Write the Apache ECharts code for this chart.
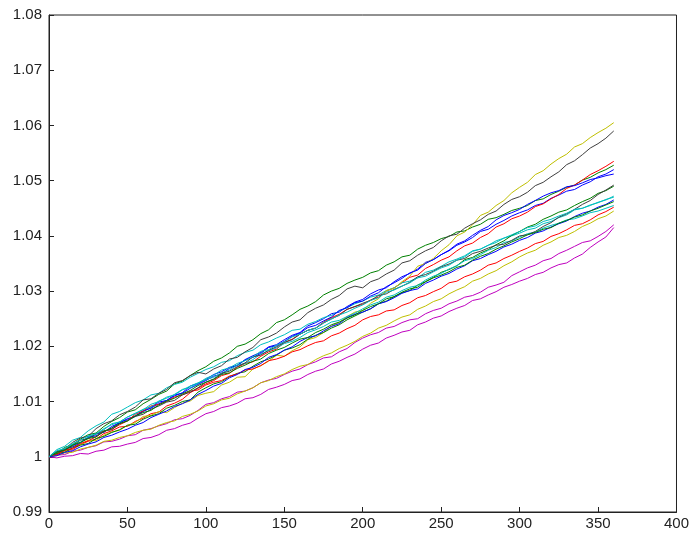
<!DOCTYPE html>
<html>
<head>
<meta charset="utf-8">
<script src="https://cdn.jsdelivr.net/npm/echarts@6/dist/echarts.min.js"></script>
<style>
  html, body { margin: 0; padding: 0; background: #fff; }
  #main { width: 692px; height: 536px; }
</style>
</head>
<body>
<div id="main"></div>
<script>
// step index (x), one value every 5 steps
var xs = [0, 5, 10, 15, 20, 25, 30, 35, 40, 45, 50, 55, 60, 65, 70, 75, 80, 85, 90, 95,
    100, 105, 110, 115, 120, 125, 130, 135, 140, 145, 150, 155, 160, 165, 170, 175, 180, 185, 190, 195,
    200, 205, 210, 215, 220, 225, 230, 235, 240, 245, 250, 255, 260, 265, 270, 275, 280, 285, 290, 295,
    300, 305, 310, 315, 320, 325, 330, 335, 340, 345, 350, 355, 360];

var yellowTop = [1, 1.0007, 1.0009, 1.0018, 1.0022, 1.0030, 1.0029, 1.0039, 1.0045, 1.0048,
    1.0057, 1.0062, 1.0073, 1.0075, 1.0082, 1.0080, 1.0089, 1.0097, 1.0101, 1.0111,
    1.0115, 1.0118, 1.0130, 1.0135, 1.0144, 1.0145, 1.0159, 1.0165, 1.0173, 1.0184,
    1.0182, 1.0192, 1.0199, 1.0212, 1.0216, 1.0225, 1.0237, 1.0243, 1.0254, 1.0262,
    1.0265, 1.0278, 1.0286, 1.0301, 1.0305, 1.0317, 1.0327, 1.0345, 1.0350, 1.0359,
    1.0373, 1.0384, 1.0400, 1.0407, 1.0420, 1.0437, 1.0443, 1.0455, 1.0464, 1.0478,
    1.0488, 1.0497, 1.0511, 1.0518, 1.0530, 1.0540, 1.0548, 1.0561, 1.0567, 1.0578,
    1.0587, 1.0595, 1.0605];
var blackTop = [1, 1.0010, 1.0014, 1.0026, 1.0034, 1.0037, 1.0051, 1.0060, 1.0065, 1.0076,
    1.0082, 1.0090, 1.0103, 1.0105, 1.0115, 1.0122, 1.0134, 1.0138, 1.0147, 1.0153,
    1.0150, 1.0159, 1.0165, 1.0177, 1.0180, 1.0190, 1.0198, 1.0212, 1.0217, 1.0224,
    1.0235, 1.0244, 1.0248, 1.0261, 1.0269, 1.0275, 1.0285, 1.0292, 1.0304, 1.0309,
    1.0306, 1.0317, 1.0322, 1.0331, 1.0338, 1.0351, 1.0355, 1.0365, 1.0373, 1.0379,
    1.0391, 1.0400, 1.0403, 1.0414, 1.0422, 1.0429, 1.0439, 1.0445, 1.0457, 1.0466,
    1.0471, 1.0479, 1.0491, 1.0497, 1.0507, 1.0516, 1.0529, 1.0536, 1.0547, 1.0559,
    1.0567, 1.0577, 1.0590];
var greenTop = [1, 1.0006, 1.0017, 1.0022, 1.0032, 1.0040, 1.0043, 1.0055, 1.0064, 1.0071,
    1.0081, 1.0085, 1.0096, 1.0104, 1.0113, 1.0119, 1.0132, 1.0137, 1.0147, 1.0156,
    1.0163, 1.0173, 1.0179, 1.0188, 1.0200, 1.0204, 1.0212, 1.0223, 1.0230, 1.0243,
    1.0248, 1.0257, 1.0267, 1.0273, 1.0281, 1.0293, 1.0300, 1.0305, 1.0314, 1.0320,
    1.0325, 1.0333, 1.0337, 1.0347, 1.0353, 1.0362, 1.0365, 1.0376, 1.0383, 1.0388,
    1.0395, 1.0399, 1.0407, 1.0409, 1.0416, 1.0421, 1.0430, 1.0433, 1.0439, 1.0446,
    1.0450, 1.0455, 1.0464, 1.0467, 1.0475, 1.0481, 1.0488, 1.0492, 1.0501, 1.0506,
    1.0514, 1.0520, 1.0528];
var redTop = [1, 1.0003, 1.0011, 1.0013, 1.0022, 1.0028, 1.0032, 1.0042, 1.0047, 1.0054,
    1.0055, 1.0064, 1.0070, 1.0078, 1.0081, 1.0092, 1.0097, 1.0104, 1.0116, 1.0124,
    1.0132, 1.0138, 1.0147, 1.0151, 1.0162, 1.0169, 1.0172, 1.0182, 1.0190, 1.0195,
    1.0207, 1.0213, 1.0222, 1.0229, 1.0233, 1.0244, 1.0252, 1.0258, 1.0267, 1.0272,
    1.0276, 1.0284, 1.0289, 1.0300, 1.0306, 1.0315, 1.0325, 1.0329, 1.0341, 1.0348,
    1.0356, 1.0362, 1.0373, 1.0382, 1.0387, 1.0397, 1.0404, 1.0416, 1.0422, 1.0431,
    1.0436, 1.0443, 1.0453, 1.0458, 1.0467, 1.0475, 1.0486, 1.0492, 1.0501, 1.0511,
    1.0518, 1.0526, 1.0535];
var blueA = [1, 1.0008, 1.0011, 1.0021, 1.0026, 1.0035, 1.0042, 1.0044, 1.0055, 1.0061,
    1.0069, 1.0073, 1.0082, 1.0089, 1.0099, 1.0102, 1.0110, 1.0116, 1.0128, 1.0133,
    1.0140, 1.0149, 1.0154, 1.0162, 1.0165, 1.0176, 1.0183, 1.0189, 1.0199, 1.0203,
    1.0212, 1.0220, 1.0225, 1.0237, 1.0243, 1.0250, 1.0259, 1.0262, 1.0272, 1.0280,
    1.0285, 1.0295, 1.0302, 1.0306, 1.0317, 1.0326, 1.0332, 1.0340, 1.0352, 1.0357,
    1.0366, 1.0373, 1.0383, 1.0389, 1.0397, 1.0408, 1.0412, 1.0421, 1.0428, 1.0436,
    1.0442, 1.0447, 1.0455, 1.0459, 1.0468, 1.0474, 1.0481, 1.0484, 1.0492, 1.0498,
    1.0507, 1.0512, 1.0520];
var blueB = [1, 1.0005, 1.0014, 1.0018, 1.0025, 1.0035, 1.0038, 1.0046, 1.0052, 1.0063,
    1.0067, 1.0074, 1.0083, 1.0088, 1.0096, 1.0102, 1.0112, 1.0115, 1.0124, 1.0131,
    1.0138, 1.0146, 1.0150, 1.0160, 1.0166, 1.0175, 1.0180, 1.0187, 1.0198, 1.0201,
    1.0209, 1.0218, 1.0224, 1.0234, 1.0238, 1.0246, 1.0253, 1.0265, 1.0270, 1.0279,
    1.0282, 1.0291, 1.0297, 1.0308, 1.0315, 1.0323, 1.0333, 1.0338, 1.0350, 1.0357,
    1.0366, 1.0374, 1.0385, 1.0391, 1.0401, 1.0410, 1.0417, 1.0429, 1.0437, 1.0442,
    1.0448, 1.0457, 1.0464, 1.0472, 1.0478, 1.0482, 1.0489, 1.0491, 1.0496, 1.0502,
    1.0505, 1.0509, 1.0512];
var greenB = [1, 1.0006, 1.0008, 1.0016, 1.0021, 1.0024, 1.0033, 1.0037, 1.0044, 1.0049,
    1.0057, 1.0059, 1.0068, 1.0074, 1.0078, 1.0088, 1.0093, 1.0100, 1.0103, 1.0117,
    1.0125, 1.0132, 1.0136, 1.0145, 1.0151, 1.0154, 1.0164, 1.0172, 1.0177, 1.0184,
    1.0193, 1.0197, 1.0203, 1.0213, 1.0220, 1.0225, 1.0233, 1.0239, 1.0248, 1.0255,
    1.0262, 1.0268, 1.0277, 1.0282, 1.0290, 1.0297, 1.0301, 1.0311, 1.0317, 1.0325,
    1.0334, 1.0339, 1.0346, 1.0357, 1.0361, 1.0369, 1.0375, 1.0384, 1.0391, 1.0401,
    1.0408, 1.0416, 1.0421, 1.0430, 1.0436, 1.0443, 1.0447, 1.0455, 1.0462, 1.0468,
    1.0477, 1.0482, 1.0490];
var blackB = [1, 1.0009, 1.0013, 1.0020, 1.0030, 1.0033, 1.0041, 1.0047, 1.0049, 1.0060,
    1.0065, 1.0073, 1.0077, 1.0086, 1.0092, 1.0099, 1.0102, 1.0112, 1.0117, 1.0125,
    1.0135, 1.0141, 1.0151, 1.0155, 1.0163, 1.0170, 1.0181, 1.0184, 1.0193, 1.0199,
    1.0207, 1.0212, 1.0222, 1.0229, 1.0233, 1.0242, 1.0250, 1.0256, 1.0267, 1.0272,
    1.0278, 1.0283, 1.0292, 1.0295, 1.0303, 1.0309, 1.0316, 1.0326, 1.0330, 1.0336,
    1.0344, 1.0349, 1.0356, 1.0359, 1.0368, 1.0372, 1.0378, 1.0383, 1.0385, 1.0392,
    1.0400, 1.0402, 1.0408, 1.0417, 1.0424, 1.0434, 1.0440, 1.0448, 1.0457, 1.0464,
    1.0475, 1.0483, 1.0492];
var cyanA = [1, 1.0013, 1.0019, 1.0030, 1.0035, 1.0047, 1.0056, 1.0063, 1.0077, 1.0082,
    1.0090, 1.0098, 1.0103, 1.0112, 1.0115, 1.0125, 1.0131, 1.0135, 1.0144, 1.0151,
    1.0158, 1.0163, 1.0171, 1.0174, 1.0183, 1.0189, 1.0193, 1.0203, 1.0208, 1.0215,
    1.0221, 1.0229, 1.0231, 1.0240, 1.0245, 1.0252, 1.0256, 1.0264, 1.0270, 1.0277,
    1.0282, 1.0289, 1.0293, 1.0301, 1.0306, 1.0315, 1.0318, 1.0324, 1.0334, 1.0338,
    1.0345, 1.0353, 1.0358, 1.0364, 1.0373, 1.0376, 1.0383, 1.0388, 1.0396, 1.0400,
    1.0405, 1.0411, 1.0414, 1.0422, 1.0426, 1.0433, 1.0438, 1.0447, 1.0450, 1.0456,
    1.0460, 1.0466, 1.0470];
var blueC = [1, 1.0002, 1.0008, 1.0011, 1.0018, 1.0023, 1.0027, 1.0035, 1.0039, 1.0045,
    1.0050, 1.0057, 1.0062, 1.0071, 1.0077, 1.0083, 1.0091, 1.0096, 1.0103, 1.0113,
    1.0120, 1.0128, 1.0133, 1.0143, 1.0149, 1.0158, 1.0162, 1.0169, 1.0180, 1.0185,
    1.0193, 1.0199, 1.0209, 1.0216, 1.0219, 1.0228, 1.0236, 1.0241, 1.0252, 1.0258,
    1.0262, 1.0268, 1.0277, 1.0281, 1.0288, 1.0296, 1.0301, 1.0304, 1.0314, 1.0320,
    1.0327, 1.0332, 1.0340, 1.0346, 1.0355, 1.0359, 1.0366, 1.0372, 1.0380, 1.0385,
    1.0392, 1.0397, 1.0405, 1.0409, 1.0416, 1.0422, 1.0427, 1.0435, 1.0441, 1.0445,
    1.0452, 1.0457, 1.0465];
var cyanB = [1, 1.0009, 1.0014, 1.0022, 1.0026, 1.0036, 1.0042, 1.0049, 1.0060, 1.0063,
    1.0072, 1.0079, 1.0085, 1.0095, 1.0100, 1.0108, 1.0112, 1.0121, 1.0128, 1.0134,
    1.0140, 1.0144, 1.0152, 1.0157, 1.0166, 1.0169, 1.0176, 1.0186, 1.0192, 1.0197,
    1.0205, 1.0209, 1.0216, 1.0225, 1.0230, 1.0236, 1.0244, 1.0247, 1.0254, 1.0260,
    1.0268, 1.0275, 1.0280, 1.0289, 1.0293, 1.0301, 1.0307, 1.0310, 1.0320, 1.0327,
    1.0332, 1.0340, 1.0346, 1.0355, 1.0359, 1.0366, 1.0374, 1.0379, 1.0388, 1.0391,
    1.0398, 1.0404, 1.0407, 1.0414, 1.0419, 1.0423, 1.0429, 1.0431, 1.0436, 1.0442,
    1.0445, 1.0450, 1.0455];
var yellowLow = [1, 1.0002, 1.0007, 1.0008, 1.0014, 1.0017, 1.0021, 1.0028, 1.0030, 1.0035,
    1.0038, 1.0044, 1.0048, 1.0050, 1.0057, 1.0062, 1.0065, 1.0073, 1.0077, 1.0083,
    1.0092, 1.0096, 1.0103, 1.0106, 1.0114, 1.0119, 1.0125, 1.0134, 1.0138, 1.0145,
    1.0150, 1.0158, 1.0164, 1.0167, 1.0176, 1.0183, 1.0188, 1.0196, 1.0202, 1.0209,
    1.0218, 1.0224, 1.0233, 1.0238, 1.0246, 1.0253, 1.0257, 1.0267, 1.0273, 1.0281,
    1.0286, 1.0295, 1.0302, 1.0308, 1.0318, 1.0323, 1.0331, 1.0337, 1.0346, 1.0353,
    1.0362, 1.0369, 1.0374, 1.0383, 1.0389, 1.0397, 1.0401, 1.0408, 1.0417, 1.0423,
    1.0431, 1.0436, 1.0445];
var redLow = [1, 1.0004, 1.0012, 1.0015, 1.0024, 1.0029, 1.0036, 1.0046, 1.0050, 1.0058,
    1.0065, 1.0077, 1.0083, 1.0092, 1.0095, 1.0100, 1.0108, 1.0112, 1.0119, 1.0121,
    1.0130, 1.0135, 1.0138, 1.0146, 1.0150, 1.0157, 1.0159, 1.0165, 1.0174, 1.0177,
    1.0182, 1.0190, 1.0194, 1.0201, 1.0207, 1.0210, 1.0219, 1.0224, 1.0232, 1.0238,
    1.0248, 1.0254, 1.0257, 1.0264, 1.0266, 1.0274, 1.0279, 1.0288, 1.0292, 1.0299,
    1.0305, 1.0315, 1.0318, 1.0326, 1.0331, 1.0338, 1.0347, 1.0351, 1.0359, 1.0365,
    1.0372, 1.0378, 1.0386, 1.0390, 1.0399, 1.0404, 1.0411, 1.0419, 1.0422, 1.0429,
    1.0438, 1.0444, 1.0452];
var magentaA = [1, 1.0003, 1.0004, 1.0010, 1.0012, 1.0017, 1.0020, 1.0027, 1.0028, 1.0032,
    1.0038, 1.0040, 1.0048, 1.0051, 1.0056, 1.0060, 1.0067, 1.0069, 1.0075, 1.0084,
    1.0095, 1.0098, 1.0105, 1.0109, 1.0117, 1.0119, 1.0125, 1.0134, 1.0139, 1.0142,
    1.0149, 1.0155, 1.0159, 1.0167, 1.0172, 1.0179, 1.0181, 1.0190, 1.0196, 1.0207,
    1.0215, 1.0221, 1.0225, 1.0233, 1.0236, 1.0243, 1.0248, 1.0250, 1.0259, 1.0265,
    1.0269, 1.0277, 1.0282, 1.0289, 1.0292, 1.0298, 1.0307, 1.0311, 1.0316, 1.0328,
    1.0335, 1.0342, 1.0347, 1.0355, 1.0359, 1.0368, 1.0374, 1.0381, 1.0388, 1.0391,
    1.0399, 1.0408, 1.0420];
var magentaB = [1, 0.9998, 1.0001, 1.0002, 1.0006, 1.0005, 1.0010, 1.0012, 1.0018, 1.0019,
    1.0023, 1.0026, 1.0033, 1.0035, 1.0040, 1.0048, 1.0051, 1.0057, 1.0061, 1.0070,
    1.0078, 1.0082, 1.0089, 1.0092, 1.0097, 1.0105, 1.0107, 1.0113, 1.0122, 1.0126,
    1.0131, 1.0138, 1.0141, 1.0149, 1.0155, 1.0159, 1.0168, 1.0173, 1.0180, 1.0186,
    1.0195, 1.0202, 1.0206, 1.0215, 1.0220, 1.0226, 1.0229, 1.0239, 1.0244, 1.0251,
    1.0255, 1.0263, 1.0269, 1.0274, 1.0283, 1.0286, 1.0293, 1.0299, 1.0307, 1.0312,
    1.0318, 1.0323, 1.0330, 1.0334, 1.0342, 1.0348, 1.0351, 1.0360, 1.0367, 1.0379,
    1.0389, 1.0398, 1.0415];
var greenC = [1, 1.0008, 1.0012, 1.0021, 1.0026, 1.0033, 1.0036, 1.0046, 1.0052, 1.0060,
    1.0065, 1.0074, 1.0080, 1.0084, 1.0094, 1.0101, 1.0106, 1.0114, 1.0120, 1.0129,
    1.0135, 1.0140, 1.0149, 1.0152, 1.0160, 1.0166, 1.0173, 1.0177, 1.0187, 1.0193,
    1.0198, 1.0206, 1.0213, 1.0216, 1.0225, 1.0231, 1.0239, 1.0244, 1.0251, 1.0257,
    1.0265, 1.0272, 1.0277, 1.0286, 1.0290, 1.0298, 1.0304, 1.0307, 1.0317, 1.0324,
    1.0329, 1.0335, 1.0343, 1.0347, 1.0356, 1.0363, 1.0368, 1.0376, 1.0382, 1.0389,
    1.0395, 1.0402, 1.0406, 1.0412, 1.0415, 1.0423, 1.0428, 1.0434, 1.0438, 1.0445,
    1.0450, 1.0456, 1.0462];
var cyanC = [1, 1.0011, 1.0015, 1.0024, 1.0030, 1.0038, 1.0041, 1.0051, 1.0058, 1.0063,
    1.0072, 1.0078, 1.0086, 1.0090, 1.0101, 1.0106, 1.0113, 1.0122, 1.0125, 1.0133,
    1.0142, 1.0148, 1.0157, 1.0161, 1.0169, 1.0174, 1.0181, 1.0191, 1.0194, 1.0202,
    1.0208, 1.0217, 1.0222, 1.0229, 1.0233, 1.0243, 1.0249, 1.0257, 1.0262, 1.0269,
    1.0275, 1.0283, 1.0288, 1.0298, 1.0302, 1.0309, 1.0315, 1.0324, 1.0327, 1.0335,
    1.0342, 1.0347, 1.0356, 1.0362, 1.0372, 1.0376, 1.0383, 1.0391, 1.0396, 1.0402,
    1.0408, 1.0415, 1.0418, 1.0426, 1.0430, 1.0436, 1.0441, 1.0448, 1.0450, 1.0455,
    1.0461, 1.0465, 1.0472];

var xTicks = [0, 50, 100, 150, 200, 250, 300, 350, 400];
var yTicks = [0.99, 1, 1.01, 1.02, 1.03, 1.04, 1.05, 1.06, 1.07, 1.08];

// matlab style colours
var lines = [
    { data: blueA, color: '#0000ff' },
    { data: greenTop, color: '#008000' },
    { data: redTop, color: '#ff0000' },
    { data: cyanA, color: '#00bfbf' },
    { data: magentaA, color: '#bf00bf' },
    { data: yellowTop, color: '#bfbf00' },
    { data: blackTop, color: '#3f3f3f' },
    { data: blueB, color: '#0000ff' },
    { data: greenB, color: '#008000' },
    { data: redLow, color: '#ff0000' },
    { data: cyanB, color: '#00bfbf' },
    { data: magentaB, color: '#bf00bf' },
    { data: yellowLow, color: '#bfbf00' },
    { data: blackB, color: '#3f3f3f' },
    { data: blueC, color: '#0000ff' },
    { data: greenC, color: '#008000' },
    { data: cyanC, color: '#00bfbf' }
];

var chart = echarts.init(document.getElementById('main'));

var series = lines.map(function (l) {
    return {
        type: 'line',
        data: l.data.map(function (v, i) { return [xs[i], v]; }),
        showSymbol: false,
        silent: true,
        lineStyle: { color: l.color, width: 1 },
        animation: false
    };
});

var labelStyle = { color: '#222', fontSize: 15, fontFamily: 'Liberation Sans, Arial, sans-serif' };

var option = {
    backgroundColor: '#fff',
    grid: {
        left: 49, right: 13, top: 15, bottom: 24,
        show: true, borderColor: '#222', borderWidth: 1, backgroundColor: '#fff'
    },
    xAxis: {
        type: 'value',
        min: xTicks[0], max: xTicks[xTicks.length - 1], interval: 50,
        axisLine: { lineStyle: { color: '#222' } },
        axisTick: { inside: true, length: 5, lineStyle: { color: '#222' } },
        axisLabel: Object.assign({ margin: 4 }, labelStyle),
        splitLine: { show: false }
    },
    yAxis: {
        type: 'value',
        min: yTicks[0], max: yTicks[yTicks.length - 1], interval: 0.01,
        axisLine: { show: true, lineStyle: { color: '#222' } },
        axisTick: { show: true, inside: true, length: 5, lineStyle: { color: '#222' } },
        axisLabel: Object.assign({
            margin: 7,
            formatter: function (v) { return String(+v.toFixed(2)); }
        }, labelStyle),
        splitLine: { show: false }
    },
    series: series
};

chart.setOption(option);
</script>
</body>
</html>
